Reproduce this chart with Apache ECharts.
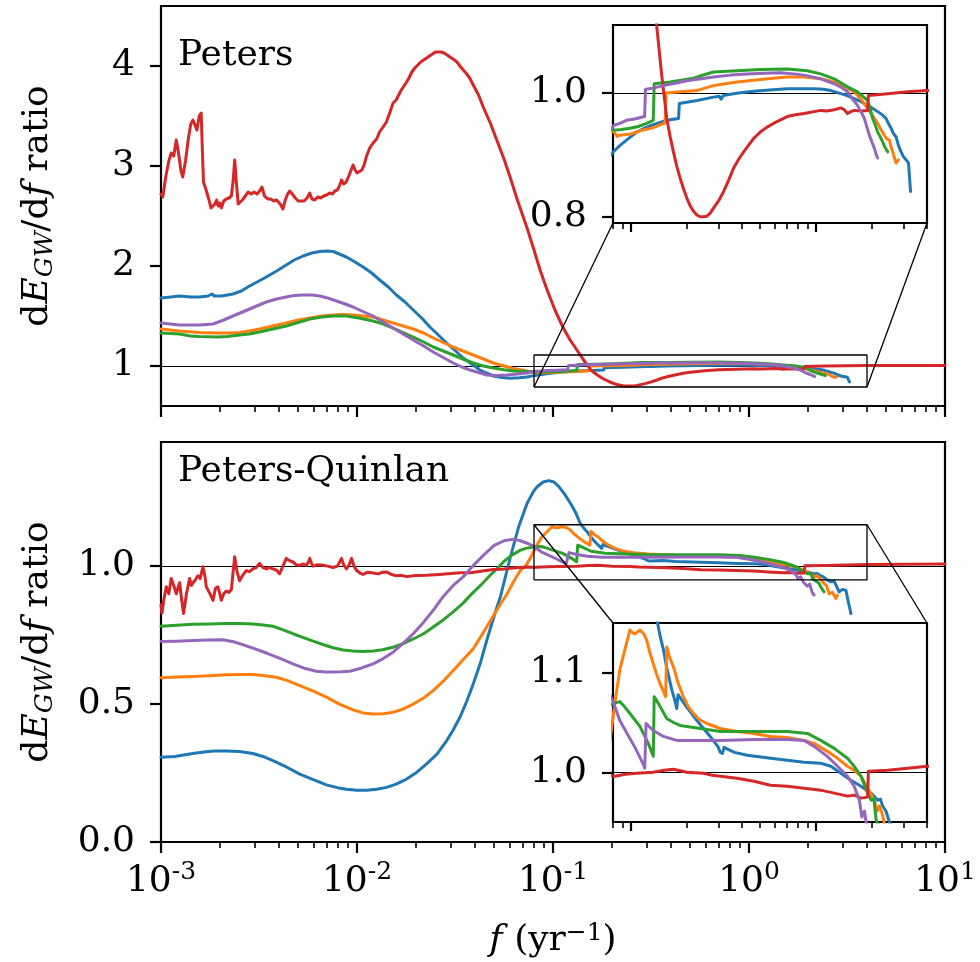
<!DOCTYPE html>
<html><head><meta charset="utf-8">
<script src="https://cdn.jsdelivr.net/npm/echarts@6.0.0/dist/echarts.min.js"></script>
<style>html,body{margin:0;padding:0;background:#fff}#c{width:980px;height:962px}</style>
</head><body><div id="c"></div>
<script>
// x values are log10(f / yr^-1); y values are dE_GW/df ratios
const xTickExponents = [-3, -2, -1, 0, 1];
const topYTicks = [1, 2, 3, 4];
const bottomYTicks = [0, 0.5, 1.0];
const topInsetYTicks = [0.8, 1.0];
const bottomInsetYTicks = [1.0, 1.1];
const insetExponents = [-1, 0];
const insetF = [0.08, 4];
const topInsetRatio = [0.79, 1.11];
const bottomInsetRatio = [0.95, 1.15];
const panelTitles = ['Peters', 'Peters-Quinlan'];
const refLevel = 1;
const seriesColors = ['#1f77b4', '#ff7f0e', '#2ca02c', '#d62728', '#9467bd'];

// ---- Peters panel ----
const petersBlue = [[-3.0,1.68],[-2.95,1.69],[-2.906,1.70],[-2.85,1.69],[-2.804,1.69],[-2.76,1.70],[-2.74,1.72],[-2.728,1.70],[-2.69,1.70],[-2.633,1.72],[-2.59,1.75],[-2.548,1.80],[-2.50,1.85],[-2.463,1.89],[-2.41,1.95],[-2.361,2.01],[-2.32,2.06],[-2.275,2.10],[-2.23,2.13],[-2.19,2.145],[-2.15,2.15],[-2.122,2.145],[-2.09,2.12],[-2.054,2.09],[-2.01,2.04],[-1.969,1.99],[-1.925,1.93],[-1.884,1.86],[-1.84,1.79],[-1.799,1.71],[-1.755,1.64],[-1.713,1.56],[-1.67,1.48],[-1.628,1.39],[-1.585,1.31],[-1.543,1.23],[-1.50,1.155],[-1.458,1.08],[-1.415,1.02],[-1.373,0.96],[-1.34,0.93],[-1.304,0.90],[-1.26,0.885],[-1.219,0.877],[-1.17,0.882],[-1.134,0.89],[-1.092,0.906],[-1.06,0.915],[-1.024,0.924],[-0.969,0.937],[-0.92,0.944],[-0.879,0.949],[-0.806,0.956],[-0.742,0.959],[-0.738,0.983],[-0.643,0.988],[-0.56,0.993],[-0.522,0.995],[-0.512,0.990],[-0.50,0.996],[-0.42,1.0],[-0.335,1.003],[-0.25,1.005],[-0.154,1.007],[-0.07,1.007],[-0.009,1.007],[0.04,1.006],[0.082,1.004],[0.136,0.999],[0.17,0.996],[0.208,0.991],[0.245,0.986],[0.281,0.980],[0.31,0.975],[0.335,0.970],[0.36,0.965],[0.38,0.959],[0.395,0.950],[0.408,0.943],[0.42,0.935],[0.435,0.929],[0.448,0.915],[0.462,0.905],[0.475,0.897],[0.489,0.892],[0.502,0.887],[0.513,0.841]];
const petersOrange = [[-3.0,1.37],[-2.906,1.35],[-2.804,1.335],[-2.718,1.33],[-2.65,1.33],[-2.599,1.335],[-2.55,1.35],[-2.497,1.37],[-2.43,1.40],[-2.361,1.43],[-2.30,1.46],[-2.241,1.48],[-2.18,1.50],[-2.122,1.51],[-2.07,1.515],[-2.020,1.51],[-1.97,1.50],[-1.918,1.49],[-1.866,1.46],[-1.816,1.43],[-1.765,1.40],[-1.713,1.37],[-1.66,1.33],[-1.611,1.28],[-1.56,1.235],[-1.509,1.19],[-1.46,1.15],[-1.407,1.11],[-1.355,1.07],[-1.304,1.03],[-1.25,1.0],[-1.202,0.975],[-1.16,0.96],[-1.12,0.945],[-1.092,0.937],[-1.075,0.930],[-1.06,0.932],[-1.0,0.934],[-0.951,0.939],[-0.879,0.944],[-0.815,0.952],[-0.810,1.0],[-0.734,1.002],[-0.643,1.004],[-0.60,1.008],[-0.553,1.012],[-0.49,1.015],[-0.426,1.018],[-0.36,1.020],[-0.299,1.022],[-0.23,1.024],[-0.154,1.026],[-0.063,1.026],[0.027,1.023],[0.1,1.018],[0.154,1.011],[0.208,1.002],[0.245,0.99],[0.281,0.975],[0.31,0.962],[0.335,0.951],[0.355,0.94],[0.371,0.932],[0.385,0.926],[0.399,0.924],[0.408,0.912],[0.417,0.905],[0.426,0.895],[0.435,0.887],[0.448,0.892]];
const petersGreen = [[-3.0,1.33],[-2.906,1.32],[-2.85,1.30],[-2.804,1.295],[-2.718,1.29],[-2.66,1.295],[-2.599,1.31],[-2.55,1.32],[-2.497,1.34],[-2.43,1.37],[-2.361,1.40],[-2.30,1.435],[-2.241,1.47],[-2.18,1.49],[-2.122,1.50],[-2.054,1.50],[-1.99,1.48],[-1.918,1.45],[-1.866,1.42],[-1.816,1.38],[-1.765,1.335],[-1.713,1.29],[-1.66,1.24],[-1.611,1.19],[-1.56,1.15],[-1.509,1.11],[-1.46,1.07],[-1.407,1.03],[-1.355,1.0],[-1.304,0.98],[-1.25,0.962],[-1.202,0.95],[-1.134,0.945],[-1.092,0.940],[-1.05,0.941],[-1.005,0.943],[-0.96,0.946],[-0.915,0.951],[-0.879,0.956],[-0.874,1.015],[-0.788,1.018],[-0.72,1.021],[-0.661,1.024],[-0.60,1.03],[-0.553,1.034],[-0.426,1.036],[-0.299,1.038],[-0.154,1.039],[-0.045,1.036],[0.027,1.031],[0.1,1.023],[0.172,1.01],[0.226,1.002],[0.281,0.988],[0.295,0.975],[0.308,0.959],[0.32,0.950],[0.335,0.937],[0.348,0.93],[0.362,0.921],[0.375,0.912],[0.39,0.905]];
const petersRed = [[-3.0,2.72],[-2.991,2.69],[-2.975,2.90],[-2.96,3.05],[-2.948,3.13],[-2.935,3.10],[-2.922,3.26],[-2.912,3.15],[-2.898,2.95],[-2.889,2.89],[-2.875,3.05],[-2.86,3.28],[-2.848,3.42],[-2.837,3.46],[-2.825,3.40],[-2.817,3.36],[-2.805,3.50],[-2.795,3.53],[-2.788,3.10],[-2.783,2.84],[-2.77,2.76],[-2.755,2.66],[-2.745,2.58],[-2.735,2.56],[-2.725,2.62],[-2.716,2.66],[-2.708,2.60],[-2.700,2.63],[-2.692,2.58],[-2.68,2.65],[-2.667,2.67],[-2.653,2.68],[-2.641,2.70],[-2.632,2.85],[-2.624,3.06],[-2.614,2.80],[-2.606,2.62],[-2.599,2.61],[-2.585,2.66],[-2.57,2.70],[-2.555,2.74],[-2.54,2.72],[-2.525,2.74],[-2.51,2.72],[-2.497,2.75],[-2.485,2.79],[-2.472,2.70],[-2.455,2.67],[-2.44,2.67],[-2.425,2.65],[-2.41,2.66],[-2.392,2.62],[-2.378,2.57],[-2.366,2.66],[-2.354,2.72],[-2.343,2.75],[-2.33,2.72],[-2.315,2.68],[-2.30,2.65],[-2.285,2.65],[-2.27,2.65],[-2.255,2.68],[-2.241,2.73],[-2.23,2.67],[-2.215,2.66],[-2.20,2.69],[-2.185,2.68],[-2.17,2.70],[-2.155,2.71],[-2.14,2.73],[-2.125,2.72],[-2.113,2.75],[-2.10,2.76],[-2.09,2.80],[-2.079,2.86],[-2.068,2.82],[-2.055,2.84],[-2.042,2.90],[-2.030,2.96],[-2.020,3.01],[-2.01,2.96],[-2.0,2.93],[-1.99,2.95],[-1.975,2.96],[-1.962,3.02],[-1.951,3.10],[-1.935,3.18],[-1.918,3.23],[-1.90,3.27],[-1.885,3.34],[-1.867,3.39],[-1.85,3.44],[-1.835,3.52],[-1.816,3.63],[-1.80,3.66],[-1.79,3.70],[-1.777,3.75],[-1.764,3.79],[-1.75,3.83],[-1.735,3.88],[-1.72,3.94],[-1.705,3.98],[-1.69,4.01],[-1.675,4.04],[-1.66,4.06],[-1.645,4.08],[-1.63,4.10],[-1.615,4.12],[-1.60,4.14],[-1.586,4.14],[-1.57,4.14],[-1.556,4.13],[-1.54,4.11],[-1.526,4.09],[-1.51,4.07],[-1.49,4.04],[-1.475,4.0],[-1.458,3.96],[-1.44,3.92],[-1.425,3.88],[-1.407,3.81],[-1.38,3.71],[-1.356,3.59],[-1.32,3.43],[-1.287,3.26],[-1.25,3.07],[-1.219,2.89],[-1.18,2.65],[-1.134,2.39],[-1.10,2.18],[-1.066,1.96],[-1.03,1.76],[-0.99,1.56],[-0.95,1.39],[-0.913,1.26],[-0.885,1.18],[-0.861,1.11],[-0.833,1.028],[-0.806,0.959],[-0.788,0.93],[-0.77,0.905],[-0.752,0.882],[-0.734,0.863],[-0.715,0.845],[-0.697,0.83],[-0.68,0.818],[-0.661,0.809],[-0.643,0.803],[-0.625,0.80],[-0.607,0.80],[-0.589,0.801],[-0.571,0.806],[-0.553,0.814],[-0.525,0.826],[-0.498,0.841],[-0.47,0.86],[-0.444,0.879],[-0.417,0.893],[-0.39,0.905],[-0.36,0.917],[-0.335,0.927],[-0.30,0.937],[-0.263,0.945],[-0.21,0.954],[-0.154,0.962],[-0.11,0.965],[-0.063,0.967],[0.027,0.972],[0.06,0.971],[0.1,0.973],[0.136,0.976],[0.155,0.973],[0.172,0.967],[0.19,0.97],[0.208,0.972],[0.245,0.971],[0.281,0.972],[0.285,0.996],[0.39,0.999],[0.498,1.002],[0.603,1.004],[0.8,1.005],[1.0,1.006]];
const petersPurple = [[-3.0,1.43],[-2.906,1.41],[-2.85,1.41],[-2.804,1.41],[-2.735,1.42],[-2.68,1.46],[-2.633,1.50],[-2.59,1.535],[-2.548,1.57],[-2.50,1.61],[-2.463,1.64],[-2.41,1.67],[-2.361,1.69],[-2.32,1.705],[-2.275,1.71],[-2.23,1.71],[-2.190,1.70],[-2.15,1.68],[-2.105,1.65],[-2.06,1.62],[-2.020,1.59],[-1.97,1.545],[-1.918,1.50],[-1.866,1.44],[-1.816,1.38],[-1.765,1.32],[-1.713,1.26],[-1.66,1.20],[-1.611,1.14],[-1.56,1.085],[-1.509,1.03],[-1.465,0.99],[-1.424,0.96],[-1.38,0.935],[-1.338,0.91],[-1.29,0.905],[-1.236,0.91],[-1.18,0.92],[-1.134,0.93],[-1.092,0.948],[-1.06,0.951],[-1.024,0.956],[-0.98,0.958],[-0.926,0.962],[-0.921,1.006],[-0.88,1.008],[-0.824,1.012],[-0.76,1.016],[-0.697,1.02],[-0.62,1.023],[-0.553,1.026],[-0.46,1.029],[-0.371,1.031],[-0.28,1.032],[-0.19,1.033],[-0.12,1.031],[-0.063,1.029],[0.027,1.023],[0.1,1.015],[0.14,1.009],[0.172,1.002],[0.20,0.99],[0.226,0.98],[0.245,0.97],[0.263,0.959],[0.277,0.945],[0.29,0.932],[0.305,0.92],[0.317,0.911],[0.328,0.90],[0.335,0.895]];

// ---- Peters-Quinlan panel ----
const pqBlue = [[-3.0,0.307],[-2.93,0.31],[-2.838,0.321],[-2.78,0.326],[-2.745,0.329],[-2.735,0.336],[-2.725,0.330],[-2.667,0.330],[-2.60,0.328],[-2.531,0.321],[-2.48,0.31],[-2.429,0.295],[-2.36,0.272],[-2.292,0.246],[-2.22,0.225],[-2.156,0.207],[-2.10,0.197],[-2.054,0.191],[-2.0,0.188],[-1.951,0.188],[-1.90,0.191],[-1.849,0.198],[-1.80,0.21],[-1.747,0.228],[-1.70,0.25],[-1.645,0.283],[-1.59,0.32],[-1.543,0.367],[-1.51,0.405],[-1.475,0.452],[-1.44,0.51],[-1.407,0.573],[-1.37,0.65],[-1.338,0.731],[-1.30,0.82],[-1.268,0.89],[-1.217,1.034],[-1.175,1.143],[-1.132,1.228],[-1.10,1.27],[-1.081,1.288],[-1.05,1.305],[-1.021,1.31],[-0.995,1.305],[-0.970,1.288],[-0.94,1.26],[-0.911,1.228],[-0.885,1.195],[-0.861,1.155],[-0.842,1.137],[-0.824,1.123],[-0.806,1.105],[-0.779,1.083],[-0.762,1.072],[-0.752,1.064],[-0.745,1.078],[-0.70,1.066],[-0.643,1.052],[-0.571,1.036],[-0.53,1.026],[-0.516,1.020],[-0.505,1.019],[-0.496,1.025],[-0.44,1.020],[-0.371,1.017],[-0.245,1.014],[-0.154,1.012],[-0.063,1.010],[0.027,1.009],[0.082,1.006],[0.136,0.999],[0.19,0.992],[0.245,0.986],[0.299,0.979],[0.335,0.972],[0.35,0.973],[0.362,0.966],[0.38,0.961],[0.398,0.95],[0.418,0.943],[0.435,0.945],[0.46,0.907],[0.475,0.915],[0.494,0.913],[0.52,0.828]];
const pqOrange = [[-3.0,0.595],[-2.92,0.598],[-2.838,0.600],[-2.75,0.603],[-2.667,0.606],[-2.60,0.607],[-2.531,0.607],[-2.47,0.603],[-2.411,0.597],[-2.35,0.584],[-2.292,0.567],[-2.22,0.546],[-2.156,0.525],[-2.09,0.50],[-2.020,0.479],[-1.97,0.468],[-1.918,0.464],[-1.866,0.465],[-1.816,0.47],[-1.765,0.482],[-1.713,0.50],[-1.66,0.522],[-1.611,0.549],[-1.56,0.583],[-1.509,0.622],[-1.46,0.66],[-1.407,0.70],[-1.355,0.76],[-1.304,0.82],[-1.27,0.86],[-1.234,0.90],[-1.20,0.945],[-1.166,0.985],[-1.14,1.0],[-1.115,1.03],[-1.087,1.069],[-1.06,1.103],[-1.033,1.123],[-1.005,1.143],[-0.99,1.14],[-0.978,1.139],[-0.951,1.143],[-0.93,1.139],[-0.915,1.133],[-0.897,1.12],[-0.879,1.109],[-0.86,1.098],[-0.842,1.089],[-0.826,1.082],[-0.812,1.076],[-0.806,1.126],[-0.79,1.115],[-0.77,1.106],[-0.745,1.09],[-0.716,1.076],[-0.69,1.066],[-0.661,1.059],[-0.63,1.053],[-0.589,1.049],[-0.516,1.044],[-0.426,1.041],[-0.335,1.039],[-0.245,1.036],[-0.154,1.035],[-0.063,1.032],[-0.009,1.029],[0.063,1.021],[0.118,1.014],[0.172,1.006],[0.208,1.002],[0.245,0.996],[0.281,0.984],[0.317,0.972],[0.332,0.961],[0.344,0.966],[0.362,0.957],[0.383,0.937],[0.395,0.93],[0.409,0.900],[0.425,0.905],[0.443,0.883],[0.451,0.895]];
const pqGreen = [[-3.0,0.782],[-2.92,0.786],[-2.838,0.789],[-2.75,0.79],[-2.667,0.792],[-2.60,0.792],[-2.531,0.79],[-2.48,0.787],[-2.429,0.782],[-2.38,0.77],[-2.327,0.755],[-2.27,0.74],[-2.224,0.728],[-2.17,0.715],[-2.122,0.704],[-2.07,0.696],[-2.020,0.692],[-1.97,0.691],[-1.918,0.692],[-1.87,0.697],[-1.816,0.706],[-1.765,0.719],[-1.713,0.736],[-1.66,0.755],[-1.611,0.779],[-1.56,0.805],[-1.509,0.834],[-1.46,0.865],[-1.422,0.894],[-1.37,0.93],[-1.319,0.968],[-1.28,0.995],[-1.251,1.017],[-1.21,1.04],[-1.166,1.058],[-1.13,1.066],[-1.098,1.069],[-1.06,1.071],[-1.035,1.066],[-1.005,1.059],[-0.951,1.046],[-0.906,1.029],[-0.879,1.016],[-0.874,1.076],[-0.842,1.066],[-0.806,1.054],[-0.77,1.05],[-0.734,1.047],[-0.625,1.044],[-0.516,1.041],[-0.335,1.041],[-0.154,1.041],[-0.045,1.039],[0.027,1.032],[0.1,1.024],[0.172,1.014],[0.208,1.006],[0.245,0.996],[0.281,0.979],[0.300,0.972],[0.315,0.973],[0.327,0.952],[0.345,0.945],[0.358,0.937],[0.37,0.92],[0.383,0.907]];
const pqRed = [[-3.0,0.86],[-2.995,0.83],[-2.985,0.88],[-2.973,0.925],[-2.96,0.90],[-2.948,0.955],[-2.935,0.93],[-2.922,0.90],[-2.912,0.925],[-2.905,0.94],[-2.895,0.88],[-2.885,0.828],[-2.87,0.90],[-2.854,0.955],[-2.845,0.93],[-2.837,0.94],[-2.825,0.95],[-2.812,0.965],[-2.80,0.955],[-2.786,0.998],[-2.775,0.96],[-2.769,0.925],[-2.75,0.90],[-2.735,0.876],[-2.722,0.92],[-2.710,0.925],[-2.700,0.90],[-2.692,0.876],[-2.68,0.90],[-2.667,0.91],[-2.653,0.905],[-2.641,0.915],[-2.632,0.98],[-2.624,1.034],[-2.612,0.98],[-2.599,0.947],[-2.585,0.965],[-2.565,0.984],[-2.548,0.98],[-2.531,0.99],[-2.515,0.995],[-2.497,1.01],[-2.48,0.995],[-2.463,0.99],[-2.445,0.995],[-2.429,0.99],[-2.41,0.985],[-2.395,0.972],[-2.378,1.0],[-2.361,1.028],[-2.345,1.02],[-2.326,1.015],[-2.31,1.005],[-2.292,1.003],[-2.275,1.008],[-2.258,1.003],[-2.248,1.015],[-2.241,1.028],[-2.232,1.01],[-2.224,1.0],[-2.20,1.005],[-2.173,1.003],[-2.15,1.0],[-2.122,0.995],[-2.10,1.0],[-2.09,1.005],[-2.079,1.028],[-2.068,1.005],[-2.054,0.99],[-2.04,1.005],[-2.028,1.028],[-2.015,1.0],[-2.003,0.985],[-1.985,0.975],[-1.969,0.97],[-1.945,0.978],[-1.918,0.975],[-1.89,0.972],[-1.87,0.978],[-1.85,0.979],[-1.825,0.97],[-1.80,0.965],[-1.775,0.967],[-1.747,0.962],[-1.70,0.966],[-1.645,0.967],[-1.58,0.97],[-1.52,0.973],[-1.474,0.976],[-1.42,0.976],[-1.36,0.982],[-1.304,0.988],[-1.25,0.99],[-1.19,0.994],[-1.134,0.997],[-1.087,0.996],[-1.03,0.998],[-0.969,0.999],[-0.879,1.0],[-0.82,1.002],[-0.77,1.003],[-0.697,1.0],[-0.607,0.999],[-0.56,0.997],[-0.516,0.996],[-0.426,0.994],[-0.335,0.991],[-0.245,0.987],[-0.154,0.986],[-0.063,0.984],[0.027,0.982],[0.1,0.979],[0.172,0.976],[0.208,0.977],[0.245,0.974],[0.281,0.975],[0.285,1.001],[0.39,1.002],[0.498,1.004],[0.603,1.006],[0.8,1.007],[1.0,1.008]];
const pqPurple = [[-3.0,0.727],[-2.92,0.728],[-2.838,0.730],[-2.76,0.732],[-2.684,0.733],[-2.63,0.726],[-2.582,0.715],[-2.52,0.70],[-2.462,0.685],[-2.39,0.665],[-2.327,0.646],[-2.27,0.63],[-2.207,0.619],[-2.16,0.616],[-2.122,0.616],[-2.08,0.617],[-2.037,0.619],[-1.98,0.63],[-1.918,0.646],[-1.866,0.665],[-1.816,0.688],[-1.765,0.72],[-1.713,0.755],[-1.66,0.797],[-1.611,0.84],[-1.56,0.89],[-1.509,0.93],[-1.46,0.96],[-1.41,1.0],[-1.354,1.04],[-1.30,1.075],[-1.25,1.092],[-1.208,1.097],[-1.17,1.093],[-1.132,1.083],[-1.10,1.073],[-1.087,1.066],[-1.06,1.052],[-1.024,1.040],[-0.978,1.025],[-0.933,1.008],[-0.925,1.004],[-0.918,1.049],[-0.879,1.042],[-0.824,1.036],[-0.752,1.032],[-0.661,1.032],[-0.516,1.032],[-0.335,1.033],[-0.154,1.033],[-0.063,1.032],[-0.009,1.026],[0.063,1.016],[0.118,1.006],[0.172,0.996],[0.208,0.986],[0.236,0.972],[0.25,0.955],[0.264,0.961],[0.28,0.94],[0.298,0.927],[0.31,0.935],[0.322,0.905],[0.332,0.895]];

const petersSeries = [petersBlue, petersOrange, petersGreen, petersRed, petersPurple];
const pqSeries = [pqBlue, pqOrange, pqGreen, pqRed, pqPurple];

const FONT = 'DejaVu Serif';
const BLACK = '#000';
const lx0 = Math.log10(insetF[0]), lx1 = Math.log10(insetF[1]);

function minorTicks(lo, hi) {
  const out = [];
  for (let d = -4; d <= 1; d++) for (let m = 2; m <= 9; m++) {
    const v = Math.log10(m) + d;
    if (v >= lo - 1e-9 && v <= hi + 1e-9) out.push(v);
  }
  return out;
}

const layout = [
  {left: 161, top: 6, width: 784, height: 400},   // Peters main
  {left: 613, top: 25, width: 314, height: 198},  // Peters inset
  {left: 161, top: 442, width: 784, height: 400}, // PQ main
  {left: 613, top: 623, width: 314, height: 199}  // PQ inset
];
const inset = [false, true, false, true];
const grids = layout.map((g, i) => Object.assign({}, g, {
  show: true, backgroundColor: '#fff', borderColor: BLACK, borderWidth: 2.2,
  z: inset[i] ? 5 : 0, containLabel: false, outerBoundsMode: 'none'
}));

const xRanges = [[-3, 1], [lx0, lx1], [-3, 1], [lx0, lx1]];
const yRanges = [[0.6, 4.6], topInsetRatio, [0, 1.45], bottomInsetRatio];
const yTicks = [topYTicks, topInsetYTicks, bottomYTicks, bottomInsetYTicks];
const yFmt = [v => String(v), v => v.toFixed(1), v => v.toFixed(1), v => v.toFixed(1)];

const xAxes = [], yAxes = [];
for (let i = 0; i < 4; i++) {
  const z = inset[i] ? 7 : 1;
  const major = inset[i] ? insetExponents : xTickExponents;
  xAxes.push({
    type: 'value', gridIndex: i, position: 'bottom', min: xRanges[i][0], max: xRanges[i][1], z,
    axisLine: {show: false, onZero: false}, splitLine: {show: false},
    axisTick: {show: true, inside: false, length: inset[i] ? 9 : 11, lineStyle: {color: BLACK, width: 2.2}, customValues: major},
    axisLabel: {show: i === 2, customValues: major, margin: 18,
      formatter: v => '{b|10}{s|' + v + '}',
      rich: {
        b: {fontFamily: FONT, fontSize: 36, color: BLACK, lineHeight: 40, verticalAlign: 'bottom'},
        s: {fontFamily: FONT, fontSize: 25, color: BLACK, lineHeight: 22, verticalAlign: 'top'}
      }}
  });
  xAxes.push({
    type: 'value', gridIndex: i, position: 'bottom', offset: 0, min: xRanges[i][0], max: xRanges[i][1], z,
    axisLine: {show: false, onZero: false}, splitLine: {show: false},
    axisTick: {show: true, inside: false, length: 6, lineStyle: {color: BLACK, width: 1.6}, customValues: minorTicks(xRanges[i][0], xRanges[i][1])},
    axisLabel: {show: false}
  });
  yAxes.push({
    type: 'value', gridIndex: i, position: 'left', min: yRanges[i][0], max: yRanges[i][1], z,
    axisLine: {show: false, onZero: false}, splitLine: {show: false},
    axisTick: {show: true, inside: false, length: 11, lineStyle: {color: BLACK, width: 2.2}, customValues: yTicks[i]},
    axisLabel: {customValues: yTicks[i], margin: 26, fontFamily: FONT, fontSize: 36, color: BLACK, formatter: yFmt[i]}
  });
}

const series = [];
function addPanel(dataList, gridIdx) {
  const z = inset[gridIdx] ? 6 : 2;
  dataList.forEach((d, k) => {
    const s = {
      type: 'line', data: d, xAxisIndex: gridIdx * 2, yAxisIndex: gridIdx,
      symbol: 'none', showSymbol: false, clip: true, silent: true, z,
      lineStyle: {color: seriesColors[k], width: 3, join: 'round', cap: 'round'},
      itemStyle: {color: seriesColors[k]}
    };
    if (k === 0) {
      s.markLine = {silent: true, symbol: ['none', 'none'], label: {show: false},
        lineStyle: {color: BLACK, width: 1.2, type: 'solid'}, data: [{yAxis: refLevel}], z};
    }
    series.push(s);
  });
}
addPanel(petersSeries, 0);
addPanel(petersSeries, 1);
addPanel(pqSeries, 2);
addPanel(pqSeries, 3);

// inset indicator rectangles in the main panels
const rects = [[0, topInsetRatio], [2, bottomInsetRatio]];
rects.forEach(([g, r]) => {
  series.push({
    type: 'line', xAxisIndex: g * 2, yAxisIndex: g, symbol: 'none', silent: true, z: 3, clip: false,
    data: [[lx0, r[0]], [lx1, r[0]], [lx1, r[1]], [lx0, r[1]], [lx0, r[0]]],
    lineStyle: {color: BLACK, width: 1.3}
  });
});

const chart = echarts.init(document.getElementById('c'), null, {renderer: 'canvas'});
chart.setOption({
  animation: false,
  backgroundColor: '#fff',
  textStyle: {fontFamily: FONT},
  grid: grids, xAxis: xAxes, yAxis: yAxes, series
});

// connector lines between zoom rectangles and insets
function px(g, pt) { return chart.convertToPixel({xAxisIndex: g * 2, yAxisIndex: g}, pt); }
const conn = [];
[[0, 1, topInsetRatio[0]], [2, 3, bottomInsetRatio[1]]].forEach(([m, ins, yv]) => {
  [lx0, lx1].forEach(xv => {
    const a = px(m, [xv, yv]), b = px(ins, [xv, yv]);
    conn.push({type: 'line', z: 20, silent: true,
      shape: {x1: a[0], y1: a[1], x2: b[0], y2: b[1]}, style: {stroke: BLACK, lineWidth: 1.3}});
  });
});

const richY = {
  n: {fontFamily: FONT, fontSize: 36, color: BLACK, lineHeight: 40},
  i: {fontFamily: FONT, fontStyle: 'italic', fontSize: 36, color: BLACK, lineHeight: 40},
  sub: {fontFamily: FONT, fontStyle: 'italic', fontSize: 25, color: BLACK, lineHeight: 20, verticalAlign: 'bottom'},
  sup: {fontFamily: FONT, fontSize: 25, color: BLACK, lineHeight: 20, verticalAlign: 'top'}
};
const yLabel = '{n|d}{i|E}{sub|GW}{n|/d}{i|f}{n| ratio}';
const texts = [
  {type: 'text', x: 38, y: 206, rotation: Math.PI / 2, z: 30,
    style: {text: yLabel, rich: richY, align: 'center', verticalAlign: 'middle'}},
  {type: 'text', x: 38, y: 642, rotation: Math.PI / 2, z: 30,
    style: {text: yLabel, rich: richY, align: 'center', verticalAlign: 'middle'}},
  {type: 'text', x: 553, y: 941, z: 30,
    style: {text: '{i|f}{n| (yr}{sup|\u22121}{n|)}', rich: richY, align: 'center', verticalAlign: 'middle'}},
  {type: 'text', x: 178, y: 56, z: 30,
    style: {text: panelTitles[0], fontFamily: FONT, fontSize: 36, fill: BLACK, align: 'left', verticalAlign: 'middle'}},
  {type: 'text', x: 178, y: 472, z: 30,
    style: {text: panelTitles[1], fontFamily: FONT, fontSize: 36, fill: BLACK, align: 'left', verticalAlign: 'middle'}}
];
chart.setOption({graphic: conn.concat(texts)});
</script></body></html>
